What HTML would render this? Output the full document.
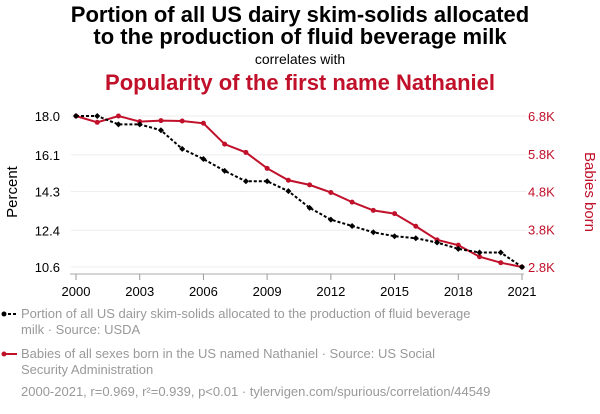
<!DOCTYPE html>
<html><head><meta charset="utf-8"><style>
body{margin:0;width:600px;height:414px;background:#fff;font-family:"Liberation Sans",sans-serif;overflow:hidden}
svg{display:block}
</style></head><body>
<svg id="chart" width="600" height="414">
<text x="300" y="22" text-anchor="middle" font-size="22" font-weight="bold" fill="#000">Portion of all US dairy skim-solids allocated</text>
<text x="300" y="44" text-anchor="middle" font-size="22" font-weight="bold" fill="#000">to the production of fluid beverage milk</text>
<text x="300" y="64" text-anchor="middle" font-size="14" fill="#000">correlates with</text>
<text x="300" y="90" text-anchor="middle" font-size="22" font-weight="bold" fill="#c0102a">Popularity of the first name Nathaniel</text>
<text transform="translate(17,192) rotate(-90)" text-anchor="middle" font-size="15" fill="#000">Percent</text>
<text transform="translate(585,192) rotate(90)" text-anchor="middle" font-size="15" fill="#c0102a">Babies born</text>
<g id="grid"></g><g id="axes"></g><g id="series"></g>
<g font-size="13" fill="#999">
<line x1="3" y1="314" x2="17" y2="314" stroke="#000" stroke-width="2" stroke-dasharray="3,2"/><circle cx="4" cy="314" r="2.5" fill="#000"/>
<text x="21" y="318">Portion of all US dairy skim-solids allocated to the production of fluid beverage</text>
<text x="21" y="334">milk · Source: USDA</text>
<line x1="3" y1="354" x2="17" y2="354" stroke="#c0102a" stroke-width="2"/><circle cx="4" cy="354" r="2.5" fill="#c0102a"/>
<text x="21" y="358">Babies of all sexes born in the US named Nathaniel · Source: US Social</text>
<text x="21" y="374">Security Administration</text>
<text x="21" y="396">2000-2021, r=0.969, r²=0.939, p&lt;0.01 · tylervigen.com/spurious/correlation/44549</text>
</g>
</svg>
<script>
const years=[2000,2001,2002,2003,2004,2005,2006,2007,2008,2009,2010,2011,2012,2013,2014,2015,2016,2017,2018,2019,2020,2021];
const dairy=[18.0,18.0,17.59,17.59,17.30,16.39,15.89,15.31,14.80,14.80,14.32,13.50,12.92,12.61,12.30,12.11,12.01,11.80,11.49,11.31,11.31,10.6];
const babies=[6800,6633,6800,6651,6677,6668,6607,6054,5835,5414,5098,4975,4774,4519,4300,4213,3879,3520,3379,3072,2914,2800];
const leftTicks=[18.0,16.1,14.3,12.4,10.6];
const rightTicks=[6800,5800,4800,3800,2800];
const rightLabels=["6.8K","5.8K","4.8K","3.8K","2.8K"];
const xTicks=[2000,2003,2006,2009,2012,2015,2018,2021];
const NS="http://www.w3.org/2000/svg";
const X0=76,X1=522,Y0=116,Y1=267;
const xs=y=>X0+(y-2000)/(2021-2000)*(X1-X0);
const yl=v=>Y0+(18.0-v)/(18.0-10.6)*(Y1-Y0);
const yr=v=>Y0+(6800-v)/(6800-2800)*(Y1-Y0);
function mk(tag,attrs,parent){const e=document.createElementNS(NS,tag);for(const k in attrs)e.setAttribute(k,attrs[k]);parent.appendChild(e);return e;}
const grid=document.getElementById('grid'),axes=document.getElementById('axes'),ser=document.getElementById('series');
leftTicks.forEach((t,i)=>{
 const g=mk('line',{x1:X0-5,x2:X1+5,y1:yl(t),y2:yl(t),stroke:'#eee','stroke-width':1},grid);
 
 
 const a=mk('text',{x:60,y:yl(t)+5,'text-anchor':'end','font-size':13,fill:'#000'},axes);a.textContent=t.toFixed(1);
 
 
});
rightTicks.forEach((t,i)=>{
 const a=mk('text',{x:528,y:yr(t)+5,'font-size':13,fill:'#c0102a'},axes);a.textContent=rightLabels[i];
 
 
});
mk('line',{x1:X0-6,x2:X1+2,y1:274,y2:274,stroke:'#aaa','stroke-width':1},axes);
xTicks.forEach(t=>{
 mk('line',{x1:xs(t),x2:xs(t),y1:274,y2:280,stroke:'#999'},axes);
 const a=mk('text',{x:xs(t),y:296,'text-anchor':'middle','font-size':13,fill:'#000'},axes);a.textContent=t;
 
 
});
const rp=mk('polyline',{points:years.map((y,i)=>xs(y)+','+yr(babies[i])).join(' '),fill:'none',stroke:'#c0102a','stroke-width':2},ser);


const bp=mk('polyline',{points:years.map((y,i)=>xs(y)+','+yl(dairy[i])).join(' '),fill:'none',stroke:'#000','stroke-width':2,'stroke-dasharray':'3,2'},ser);


years.forEach((y,i)=>{
 const c=mk('circle',{cx:xs(y),cy:yr(babies[i]),r:2.5,fill:'#c0102a'},ser);
 
 
 const cx=xs(y),cy=yl(dairy[i]);
 const d=mk('polygon',{points:`${cx},${cy-3} ${cx+3},${cy} ${cx},${cy+3} ${cx-3},${cy}`,fill:'#000'},ser);
 
 
});
</script>
</body></html>
